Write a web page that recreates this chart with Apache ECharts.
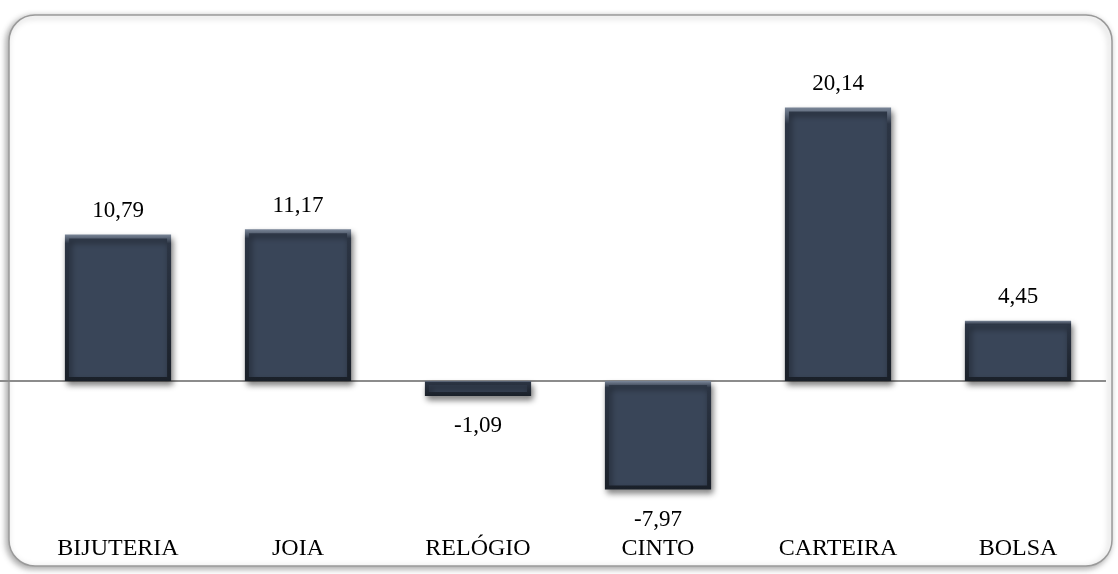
<!DOCTYPE html>
<html><head><meta charset="utf-8">
<script src="https://cdn.jsdelivr.net/npm/echarts@6/dist/echarts.min.js"></script>
<style>html,body{margin:0;padding:0;background:#fff}#c{width:1118px;height:574px}</style>
</head><body><div id="c"></div>
<script>
const categories = ['BIJUTERIA','JOIA','RELÓGIO','CINTO','CARTEIRA','BOLSA'];
const values = [10.79, 11.17, -1.09, -7.97, 20.14, 4.45];

const chart = echarts.init(document.getElementById('c'));
const font = '"Liberation Serif", "Times New Roman", serif';
const fmt = v => v.toFixed(2).replace('.', ',');

chart.setOption({
  animation: false,
  backgroundColor: '#fff',
  grid: { left: 28, right: 10, top: 55, bottom: 57 },
  xAxis: {
    type: 'category', data: categories,
    axisLine: { show: false }, axisTick: { show: false },
    axisLabel: { color: '#000', fontFamily: font, fontSize: 24, margin: 20 }
  },
  yAxis: { type: 'value', min: -10, max: 24, show: false, splitLine: { show: false } },
  series: [{
    type: 'bar', barWidth: '59%',
    data: values.map(v => ({
      value: v,
      label: { position: v < 0 ? 'bottom' : 'top', distance: v < 0 ? 19 : 12 }
    })),
    itemStyle: {
      color: '#394558',
      borderWidth: 4,
      borderColor: { type: 'linear', x: 0, y: 0, x2: 0, y2: 1, colorStops: [
        { offset: 0, color: '#7a8698' }, { offset: 0.06, color: '#2c3544' }, { offset: 1, color: '#1a2029' }] },
      shadowColor: 'rgba(0,0,0,0.45)', shadowBlur: 6, shadowOffsetX: 2, shadowOffsetY: 4
    },
    label: {
      show: true, color: '#000', fontFamily: font, fontSize: 23,
      formatter: p => fmt(p.value)
    }
  }]
});

const y0 = chart.convertToPixel({ yAxisIndex: 0 }, 0);
chart.setOption({
  graphic: [
    { type: 'rect', z: -10, shape: { x: 9, y: 15, width: 1103, height: 551, r: 26 },
      style: { fill: '#fff', stroke: '#9a9a9a', lineWidth: 1.5, shadowColor: 'rgba(0,0,0,0.35)', shadowBlur: 6, shadowOffsetX: -2, shadowOffsetY: 2 } },
    { type: 'line', z: -1, shape: { x1: 0, y1: y0, x2: 1106, y2: y0 },
      style: { stroke: '#8c8c8c', lineWidth: 2 } }
  ]
});
</script></body></html>
